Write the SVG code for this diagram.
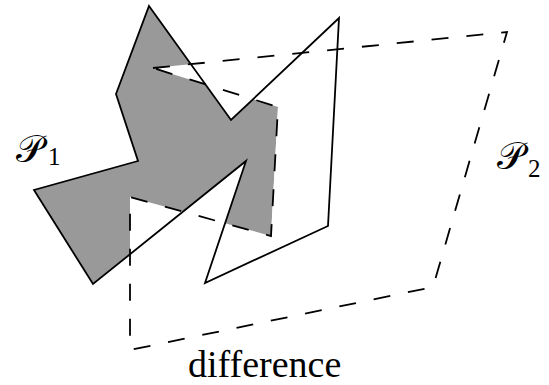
<svg xmlns="http://www.w3.org/2000/svg" width="549" height="385" viewBox="0 0 549 385">
<style>
.solid{fill:none;stroke:#000;stroke-width:1.8;stroke-linejoin:miter}
.dash{fill:none;stroke:#000;stroke-width:1.8;stroke-dasharray:17 18}
.lbl{font-family:"DejaVu Serif","Liberation Serif",serif;fill:#000}
.sub{font-family:"Liberation Serif",serif;fill:#000}
.cap{font-family:"Liberation Serif",serif;fill:#000}
</style>
<defs>
<clipPath id="p1clip"><polygon points="149,6 231,120 339,18 328,226 205,283 246,161 93,284 34,190 138,161 116,94"/></clipPath>
</defs>
<rect width="549" height="385" fill="#fff"/>
<g id="difference-fill">
<polygon points="149,6 231,120 339,18 328,226 205,283 246,161 93,284 34,190 138,161 116,94" fill="#999"/>
<polygon points="153,68 507,32 433,287 130,350 130,197 271,236 278,107" fill="#fff" clip-path="url(#p1clip)"/>
<polygon points="283.8,0 549,0 549,385 262.9,385" fill="#fff"/>
</g>
<g id="P1">
<polygon class="solid" points="149,6 231,120 339,18 328,226 205,283 246,161 93,284 34,190 138,161 116,94"/>
<text class="lbl" x="16" y="162" font-size="38">𝒫</text>
<text class="sub" x="48" y="165" font-size="25">1</text>
</g>
<g id="P2">
<polygon class="dash" points="153,68 507,32 433,287 130,350 130,197 271,236 278,107"/>
<text class="lbl" x="497" y="169" font-size="38">𝒫</text>
<text class="sub" x="528" y="177" font-size="25">2</text>
</g>
<g id="caption">
<text class="cap" x="188" y="377" font-size="38">difference</text>
</g>
</svg>
